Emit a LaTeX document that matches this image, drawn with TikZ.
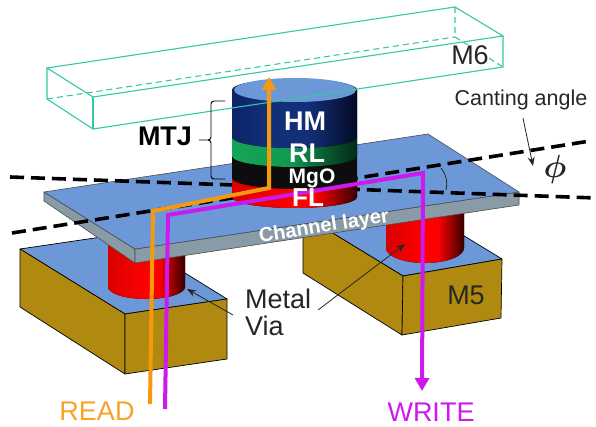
\documentclass[tikz,border=0pt]{standalone}
\usepackage{fontspec}
\setmainfont{Liberation Sans}
\usetikzlibrary{arrows.meta}
\definecolor{faceblue}{HTML}{6C98D8}
\definecolor{blockgold}{HTML}{B08A10}
\definecolor{sidegray}{HTML}{8A9BA8}
\definecolor{boxteal}{HTML}{35C8A5}
\definecolor{readorange}{HTML}{F59A10}
\definecolor{writepurple}{HTML}{CC19EE}
\definecolor{hmleft}{HTML}{0C2468}
\definecolor{hmmid}{HTML}{12307A}
\definecolor{hmright}{HTML}{040A24}
\definecolor{rlleft}{HTML}{16A558}
\definecolor{rlmid}{HTML}{109A50}
\definecolor{rlright}{HTML}{042A16}
\pgfdeclarehorizontalshading{viashade}{100bp}{color(0bp)=(red!85!black); color(25bp)=(red!85!black); color(50bp)=(red); color(58bp)=(red); color(68bp)=(red!55!black); color(75bp)=(red!20!black); color(100bp)=(red!20!black)}
\pgfdeclarehorizontalshading{hmshade}{100bp}{color(0bp)=(hmleft); color(25bp)=(hmleft); color(40bp)=(hmmid); color(55bp)=(hmmid); color(75bp)=(hmright); color(100bp)=(hmright)}
\pgfdeclarehorizontalshading{rlshade}{100bp}{color(0bp)=(rlleft); color(25bp)=(rlleft); color(48bp)=(rlmid); color(62bp)=(rlmid!60!black); color(75bp)=(rlright); color(100bp)=(rlright)}
\tikzset{
  blockside/.style={draw=black,line width=0.7pt,fill=blockgold,line join=round},
  blocktop/.style={draw=black,line width=0.7pt,fill=faceblue,line join=round},
  chanside/.style={draw=black!70,line width=0.6pt,fill=sidegray,line join=round},
  chantop/.style={draw=black!70,line width=0.6pt,fill=faceblue,line join=round},
  viaface/.style={shading=viashade},
  cant/.style={draw=black,line width=3.6pt,dash pattern=on 14pt off 7pt},
  tealline/.style={draw=boxteal,line width=1.1pt},
  tealdash/.style={tealline,dash pattern=on 6pt off 4pt},
  readpath/.style={draw=readorange,line width=4pt,line join=miter,-{Triangle[width=14pt,length=13pt]}},
  writepath/.style={draw=writepurple,line width=4pt,line join=miter,-{Triangle[width=14pt,length=13pt]}},
  thinarrow/.style={draw=black!85,line width=0.8pt,-{Stealth[width=7pt,length=9pt]}},
  lbl/.style={inner sep=0pt,font=\fontsize{27}{27}\selectfont,text=black!85},
  smalllbl/.style={lbl,font=\fontsize{21.5}{21.5}\selectfont},
  stacklbl/.style={inner sep=0pt,text=white,font=\bfseries\fontsize{27}{27}\selectfont}
}
\newcommand{\drumlayer}[2]{(232,#1) -- (232,#2) arc[start angle=180,end angle=360,x radius=62.5,y radius=11] -- (357,#1) arc[start angle=0,end angle=180,x radius=62.5,y radius=11] -- cycle}
\begin{document}
\begin{tikzpicture}[x=1pt,y=1pt]
  \useasboundingbox (0,0) rectangle (596,-427);
  \fill[white] (0,0) rectangle (596,-427);
  \draw[blocktop] (20,-249) -- (125,-314) -- (227,-299) -- (122,-234) -- cycle;
  \draw[blockside] (20,-249) -- (125,-314) -- (125,-374) -- (20,-307) -- cycle;
  \draw[blockside] (125,-314) -- (227,-299) -- (227,-359) -- (125,-374) -- cycle;
  \draw[blocktop] (303,-215) -- (403,-276) -- (502,-259) -- (402,-198) -- cycle;
  \draw[blockside] (303,-215) -- (403,-276) -- (402,-335) -- (303,-273) -- cycle;
  \draw[blockside] (403,-276) -- (502,-259) -- (501,-318) -- (402,-335) -- cycle;
  \fill[viaface] (108,-235) -- (108,-287) arc[start angle=180,end angle=360,x radius=38.5,y radius=12] -- (185,-235) -- cycle;
  \fill[viaface] (386,-205) -- (386,-248) arc[start angle=180,end angle=360,x radius=39,y radius=15] -- (464,-205) -- cycle;
  \draw[chanside] (44,-192) -- (135,-249) -- (135,-263) -- (44,-201) -- cycle;
  \draw[chanside] (135,-249) -- (519,-192) -- (519,-205) -- (135,-263) -- cycle;
  \draw[chantop] (44,-192) -- (135,-249) -- (519,-192) -- (428,-134) -- cycle;
  \coordinate (cantupa) at (12,-233);
  \coordinate (cantupb) at (590,-141);
  \coordinate (cantlowa) at (10,-177);
  \coordinate (cantlowb) at (596,-198);
  \draw[cant] (cantupa) -- (cantupb);
  \draw[cant] (cantlowa) -- (cantlowb);
  \fill[viaface] \drumlayer{-178}{-197};
  \fill[black!95] \drumlayer{-156}{-178};
  \fill[shading=rlshade] \drumlayer{-137}{-156};
  \fill[shading=hmshade] \drumlayer{-90}{-137};
  \fill[faceblue] (295,-90) ellipse[x radius=61,y radius=12];
  \draw[tealline] (47,-68) -- (455,-7) -- (503,-36) -- (93,-97) -- cycle;
  \draw[tealline] (47,-68) -- (47,-99) -- (93,-129) -- (503,-67) -- (503,-36);
  \draw[tealline] (93,-97) -- (93,-129);
  \draw[tealdash] (47,-99) -- (455,-37);
  \draw[tealdash] (455,-7) -- (455,-37) -- (503,-67);
  \coordinate (readstart) at (150,-404);
  \coordinate (readbend) at (153,-211);
  \coordinate (readturn) at (269,-188);
  \coordinate (readtop) at (269,-77);
  \coordinate (writestart) at (165,-409);
  \coordinate (writebend) at (168,-215);
  \coordinate (writeturn) at (423,-173);
  \coordinate (writeend) at (422,-391);
  \draw[writepath] (writestart) -- (writebend) -- (writeturn) -- (writeend);
  \draw[readpath] (readstart) -- (readbend) -- (readturn) -- (readtop);
  \draw
    (521,-100) node[smalllbl] (canting){Canting angle}
    (555,-170) node[inner sep=0pt,scale=3.2,text=black!85,font=\boldmath] (phi){$\phi$}
    (470,-55) node[lbl,fill=white] (msix){M6}
    (466,-295) node[lbl] (mfive){M5}
    (245,-312) node[lbl,anchor=west,align=left,font=\fontsize{27}{27}\selectfont] (metalvia){Metal\\Via}
    (97,-411) node[lbl,text=readorange!90!white] (read){READ}
    (431,-412) node[lbl,text=writepurple] (write){WRITE}
    (165,-136) node[inner sep=0pt,font=\bfseries\fontsize{27}{27}\selectfont] (mtj){MTJ}
    (305,-121) node[stacklbl] (hm){HM}
    (307,-153) node[stacklbl] (rl){RL}
    (312,-178) node[stacklbl,font=\bfseries\fontsize{21}{21}\selectfont] (mgo){MgO}
    (308,-198) node[stacklbl,font=\bfseries\fontsize{26}{26}\selectfont] (fl){FL}
    (324,-227) node[stacklbl,rotate=9,font=\bfseries\fontsize{20}{20}\selectfont] (chan){Channel layer};
  \coordinate (metaltail) at (233,-315);
  \coordinate (metaltip) at (187,-289);
  \coordinate (metalbtail) at (318,-310);
  \coordinate (metalbtip) at (405,-244);
  \coordinate (canttail) at (523,-118);
  \coordinate (canttip) at (533,-166);
  \draw[thinarrow] (metaltail) -- (metaltip);
  \draw[thinarrow] (metalbtail) -- (metalbtip);
  \draw[thinarrow] (canttail) -- (canttip);
  \coordinate (anglea) at (441,-168);
  \coordinate (angleb) at (446,-190);
  \draw[black!85,line width=0.8pt] (anglea) to[bend left=25] (angleb);
  \coordinate (bracea) at (225,-101);
  \coordinate (braceb) at (225,-179);
  \coordinate (bracetip) at (197,-140);
  \draw[black,line width=0.9pt,rounded corners=3pt] (bracea) -- (211,-101) -- (211,-140) -- (bracetip) -- (211,-140) -- (211,-179) -- (braceb);
\end{tikzpicture}
\end{document}
